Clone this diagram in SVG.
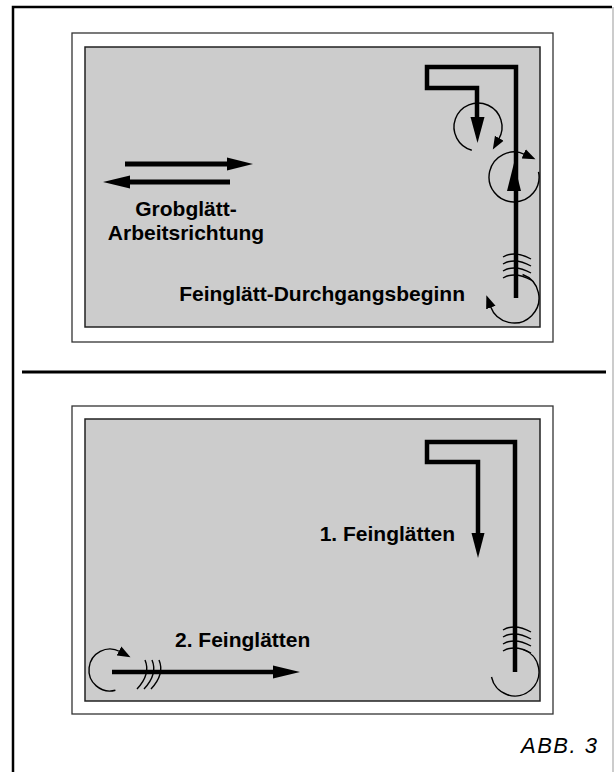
<svg xmlns="http://www.w3.org/2000/svg" width="614" height="772" viewBox="0 0 614 772">
<style>
.frame{fill:#fff;stroke:#333;stroke-width:1.3}
.panel{fill:#cccccc;stroke:#222;stroke-width:1.5}
.thick{fill:none;stroke:#000;stroke-width:4.5;stroke-linejoin:miter}
.thin{fill:none;stroke:#000;stroke-width:1.4}
.head{fill:#000;stroke:none}
.lbl{font-family:"Liberation Sans",Arial,sans-serif;font-weight:bold;font-size:21px;fill:#000}
.cap{font-family:"Liberation Sans",Arial,sans-serif;font-style:italic;font-size:22px;letter-spacing:1.5px;fill:#000}
</style>
<defs>
<marker id="sm" markerUnits="userSpaceOnUse" markerWidth="16" markerHeight="12" refX="1" refY="5" orient="auto" viewBox="0 0 16 10">
<path d="M0,0 L13,5 L0,10 Z" fill="#000"/>
</marker>
</defs>
<rect width="614" height="772" fill="#fff"/>
<g id="outer-frame">
<path d="M13,772 L13,7 L612,7" fill="none" stroke="#000" stroke-width="2.5"/>
<line x1="613" y1="7" x2="613" y2="772" stroke="#999" stroke-width="1"/>
<line x1="22" y1="372" x2="606" y2="372" stroke="#000" stroke-width="3.2"/>
</g>
<g id="panel-top">
<rect class="frame" x="72" y="33" width="481" height="309"/>
<rect class="panel" x="85" y="47" width="455" height="280"/>
</g>
<g id="panel-bottom">
<rect class="frame" x="72" y="406" width="481" height="308"/>
<rect class="panel" x="85" y="419" width="455" height="282"/>
</g>
<g id="connectors">
<line class="thick" x1="125" y1="164" x2="228" y2="164" style="stroke-width:5"/>
<path class="head" d="M227,157.5 L253,164 L227,170.5 Z"/>
<line class="thick" x1="230" y1="182" x2="129" y2="182" style="stroke-width:5"/>
<path class="head" d="M130,175.5 L103,182 L130,188.5 Z"/>
<path class="thick" d="M477,119 L477,88 L427,88 L427,67 L516,67 L516,298"/>
<path class="head" d="M470.5,117 L484.5,117 L477.5,143 Z"/>
<path class="head" d="M507,191 L521,191 L514,163 Z"/>
<path class="thin" d="M471.8,150.2 A24,24 0 1 1 498.8,139" marker-end="url(#sm)"/>
<path class="thin" d="M538.5,171.8 A25,25 0 1 1 524.6,154.3" marker-end="url(#sm)"/>
<path class="thin" d="M522.6,274.5 A25,25 0 1 1 490.5,306.6" marker-end="url(#sm)"/>
<path class="thin" d="M503,257 Q515,250 531,259 M503,264 Q515,257 531,266 M503,271 Q515,264 531,273 M503,278 Q515,271 531,280"/>
<path class="thick" d="M478,534 L478,462 L427,462 L427,442 L515,442 L515,672"/>
<path class="head" d="M471.5,533 L484.5,533 L478,558 Z"/>
<path class="thin" d="M523.2,649.4 A24,24 0 1 1 491.5,677"/>
<path class="thin" d="M503,630 Q515,623 531,632 M503,637 Q515,630 531,639 M503,644 Q515,637 531,646 M503,651 Q515,644 531,653"/>
<line class="thick" x1="112" y1="672" x2="274" y2="672"/>
<path class="head" d="M273,665.5 L300,672 L273,678.5 Z"/>
<path class="thin" d="M115.4,690.3 A21,21 0 1 1 119.9,651.5" marker-end="url(#sm)"/>
<path class="thin" d="M145,660 Q151,674 137,689 M152,660 Q158,674 144,689 M159,660 Q165,674 151,689"/>
</g>
<g id="labels">
<text class="lbl" x="186" y="216" text-anchor="middle">Grobglätt-</text>
<text class="lbl" x="186" y="240" text-anchor="middle">Arbeitsrichtung</text>
<text class="lbl" x="465" y="301" text-anchor="end">Feinglätt-Durchgangsbeginn</text>
<text class="lbl" x="455" y="541" text-anchor="end">1. Feinglätten</text>
<text class="lbl" x="175" y="647">2. Feinglätten</text>
<text class="cap" x="521" y="753">ABB. 3</text>
</g>
</svg>
